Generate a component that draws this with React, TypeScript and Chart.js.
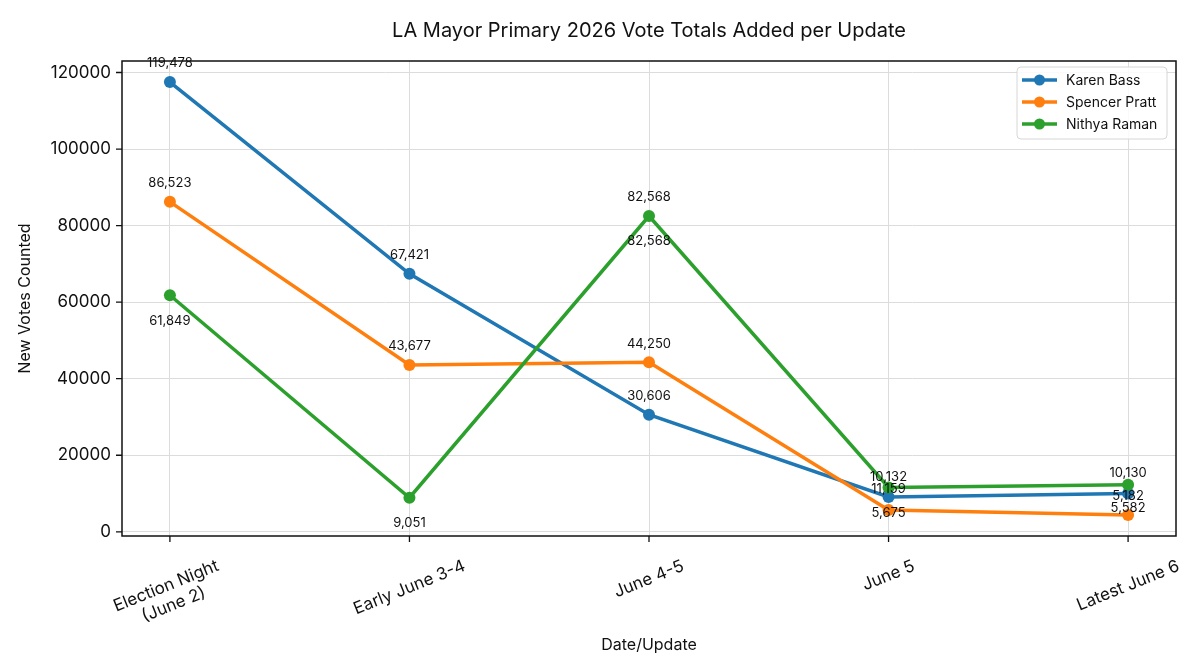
import React, { useEffect, useRef } from 'react';
import { Chart, registerables } from 'chart.js';

Chart.register(...registerables);

// values
const categories = ['Election Night\n(June 2)', 'Early June 3-4', 'June 4-5', 'June 5', 'Latest June 6'];
const bassVotes = [117500, 67400, 30600, 9100, 10000];
const prattVotes = [86200, 43600, 44300, 5700, 4400];
const ramanVotes = [61800, 8900, 82500, 11600, 12300];
const yTicks = [0, 20000, 40000, 60000, 80000, 100000, 120000];

// point annotations as printed in the reference
const bassNotes = ['119,478', '67,421', '30,606', '11,159', '5,182'];
const prattNotes = ['86,523', '43,677', '44,250', '5,675', '5,582'];
const ramanNotes = ['61,849', '9,051', '82,568', '10,132', '10,130'];
const ramanExtraNotes = ['82,568'];
const ramanExtraIndex = [2];

// vertical pixel offsets of the annotations (layout only)
const bassOffsets = [-19, -19, -19, -8, 3];
const prattOffsets = [-19, -19, -18, 3, -7];
const ramanOffsets = [26, 25, -19, -10, -12];
const ramanExtraOffsets = [25];

const FONT = 'Inter, "Noto Sans", sans-serif';
const COLORS = ['#1f77b4', '#ff7f0e', '#2ca02c'];
const NAMES = ['Karen Bass', 'Spencer Pratt', 'Nithya Raman'];

const decorPlugin = {
  id: 'decor',
  afterDraw(chart: any) {
    const { ctx, chartArea } = chart;
    const xs = chart.scales.x;
    const ys = chart.scales.y;
    ctx.save();

    // frame
    ctx.strokeStyle = '#111';
    ctx.lineWidth = 1.5;
    ctx.strokeRect(chartArea.left, chartArea.top, chartArea.right - chartArea.left, chartArea.bottom - chartArea.top);

    // tick marks
    ctx.lineWidth = 1.3;
    ctx.beginPath();
    categories.forEach((_, i) => {
      const x = xs.getPixelForValue(i);
      ctx.moveTo(x, chartArea.bottom);
      ctx.lineTo(x, chartArea.bottom + 6);
    });
    yTicks.forEach(v => {
      const y = ys.getPixelForValue(v);
      ctx.moveTo(chartArea.left, y);
      ctx.lineTo(chartArea.left - 6, y);
    });
    ctx.stroke();

    // y tick labels
    ctx.fillStyle = '#111';
    ctx.font = `17px ${FONT}`;
    ctx.textAlign = 'right';
    ctx.textBaseline = 'middle';
    yTicks.forEach(v => {
      ctx.fillText(String(v), chartArea.left - 11, ys.getPixelForValue(v));
    });

    // x tick labels, rotated and centred under the tick
    const ang = (22 * Math.PI) / 180;
    const lineH = 20;
    ctx.textAlign = 'center';
    categories.forEach((cat, i) => {
      const lines = cat.split('\n');
      const w = Math.max(...lines.map(l => ctx.measureText(l).width));
      const h = lines.length * lineH;
      const bboxH = w * Math.sin(ang) + h * Math.cos(ang);
      const cx = xs.getPixelForValue(i);
      const cy = chartArea.bottom + 20 + bboxH / 2;
      ctx.save();
      ctx.translate(cx, cy);
      ctx.rotate(-ang);
      lines.forEach((l, j) => {
        ctx.fillText(l, 0, (j - (lines.length - 1) / 2) * lineH);
      });
      ctx.restore();
    });

    // axis titles and chart title
    const midX = (chartArea.left + chartArea.right) / 2;
    ctx.font = `16px ${FONT}`;
    ctx.fillText('Date/Update', midX, 645);
    ctx.save();
    ctx.translate(25, (chartArea.top + chartArea.bottom) / 2);
    ctx.rotate(-Math.PI / 2);
    ctx.fillText('New Votes Counted', 0, 0);
    ctx.restore();
    ctx.font = `20px ${FONT}`;
    ctx.fillText('LA Mayor Primary 2026 Vote Totals Added per Update', midX, 31);

    // point annotations
    ctx.font = `13px ${FONT}`;
    const series = [
      { data: bassVotes, notes: bassNotes, offs: bassOffsets },
      { data: prattVotes, notes: prattNotes, offs: prattOffsets },
      { data: ramanVotes, notes: ramanNotes, offs: ramanOffsets },
    ];
    series.forEach(s => {
      s.notes.forEach((t, i) => {
        ctx.fillText(t, xs.getPixelForValue(i), ys.getPixelForValue(s.data[i]) + s.offs[i]);
      });
    });
    ramanExtraNotes.forEach((t, k) => {
      const i = ramanExtraIndex[k];
      ctx.fillText(t, xs.getPixelForValue(i), ys.getPixelForValue(ramanVotes[i]) + ramanExtraOffsets[k]);
    });

    // legend
    const bw = 150;
    const bh = 72;
    const bx = chartArea.right - 9 - bw;
    const by = chartArea.top + 6;
    ctx.fillStyle = 'rgba(255,255,255,0.85)';
    ctx.strokeStyle = '#d6d6d6';
    ctx.lineWidth = 1;
    ctx.beginPath();
    ctx.roundRect(bx, by, bw, bh, 4);
    ctx.fill();
    ctx.stroke();
    ctx.font = `14px ${FONT}`;
    ctx.textAlign = 'left';
    NAMES.forEach((name, k) => {
      const y = by + 13 + k * 22;
      ctx.strokeStyle = COLORS[k];
      ctx.lineWidth = 3.5;
      ctx.beginPath();
      ctx.moveTo(bx + 5, y);
      ctx.lineTo(bx + 40, y);
      ctx.stroke();
      ctx.fillStyle = COLORS[k];
      ctx.beginPath();
      ctx.arc(bx + 22.5, y, 5.5, 0, Math.PI * 2);
      ctx.fill();
      ctx.fillStyle = '#111';
      ctx.fillText(name, bx + 49, y + 1);
    });

    ctx.restore();
  },
};

const App: React.FC = () => {
  const canvasRef = useRef<HTMLCanvasElement>(null);

  useEffect(() => {
    document.body.style.margin = '0';
    if (!canvasRef.current) return;
    const seriesData = [bassVotes, prattVotes, ramanVotes];
    const chart = new Chart(canvasRef.current, {
      type: 'line',
      data: {
        datasets: seriesData.map((vals, k) => ({
          label: NAMES[k],
          data: vals.map((v, i) => ({ x: i, y: v })),
          borderColor: COLORS[k],
          backgroundColor: COLORS[k],
          pointBackgroundColor: COLORS[k],
          borderWidth: 3.5,
          pointRadius: 6,
          pointBorderWidth: 0,
          tension: 0,
          order: 2 - k,
        })),
      },
      options: {
        animation: false,
        responsive: true,
        maintainAspectRatio: false,
        layout: { padding: { left: 122, right: 24, top: 61, bottom: 134 } },
        scales: {
          x: {
            type: 'linear',
            min: -0.2,
            max: 4.2,
            afterBuildTicks: (s: any) => {
              s.ticks = categories.map((_, i) => ({ value: i }));
            },
            ticks: { display: false },
            grid: { color: '#dcdcdc', lineWidth: 1, drawTicks: false },
            border: { display: false },
          },
          y: {
            type: 'linear',
            min: -1100,
            max: 123000,
            afterBuildTicks: (s: any) => {
              s.ticks = yTicks.map(v => ({ value: v }));
            },
            ticks: { display: false },
            grid: { color: '#dcdcdc', lineWidth: 1, drawTicks: false },
            border: { display: false },
          },
        },
        plugins: {
          legend: { display: false },
          tooltip: { enabled: false },
          title: { display: false },
        },
      },
      plugins: [decorPlugin],
    });
    return () => chart.destroy();
  }, []);

  return (
    <div style={{ width: 1200, height: 670, position: 'relative', background: '#fff' }}>
      <canvas ref={canvasRef}></canvas>
    </div>
  );
};

export default App;
